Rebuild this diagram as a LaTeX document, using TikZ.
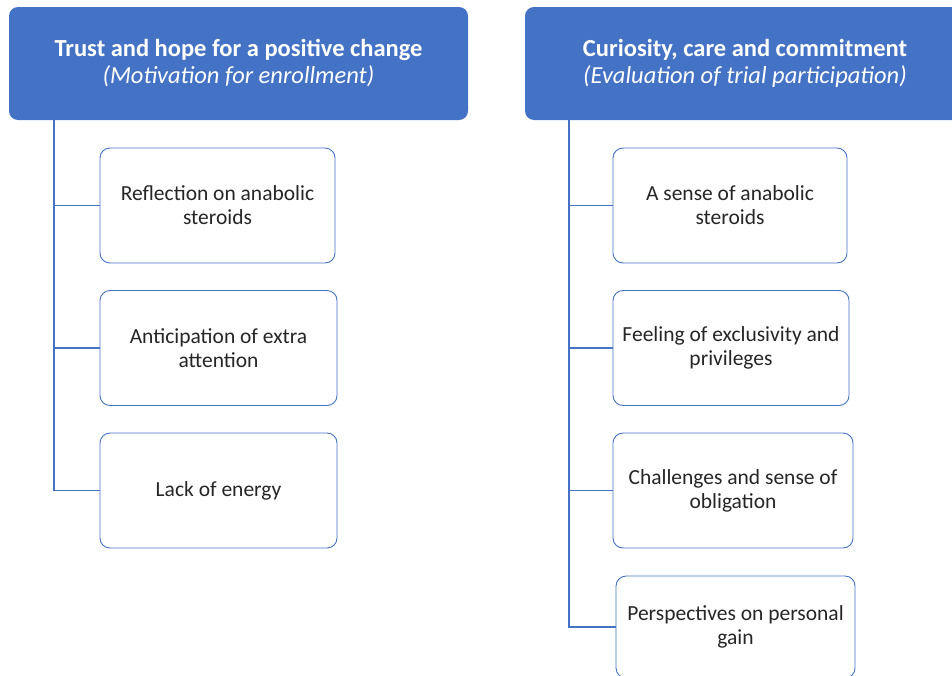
\documentclass[tikz,border=0pt]{standalone}
\usepackage{fontspec}
\setmainfont{Carlito}
\definecolor{hdblue}{HTML}{4472C4}
\begin{document}
\begin{tikzpicture}[
  x=1pt, y=-1pt,
  head/.style={rectangle, rounded corners=9pt, fill=hdblue, text=white, minimum height=113pt, align=center, font=\fontsize{24.5}{27}\selectfont, inner sep=0pt},
  item/.style={rectangle, rounded corners=10pt, draw=hdblue, line width=0.9pt, fill=white, text=black!85, minimum height=115pt, align=center, font=\fontsize{21.5}{24}\selectfont, inner sep=0pt},
  link/.style={draw=hdblue, line width=1.2pt}
]
  \clip (0,0) rectangle (952,675);
  % headers
  \node[head, minimum width=459pt] (h1) at (238.5,63.5) {\textbf{Trust and hope for a positive change}\\\textit{(Motivation for enrollment)}};
  \node[head, minimum width=440pt] (h2) at (745,63.5) {\textbf{Curiosity, care and commitment}\\\textit{(Evaluation of trial participation)}};
  \coordinate (t1) at (54,120);
  \coordinate (t2) at (569,120);
  % left column
  \node[item, minimum width=235pt] (b11) at (217.5,205.5) {Reflection on anabolic\\steroids};
  \node[item, minimum width=237pt] (b12) at (218.5,348) {Anticipation of extra\\attention};
  \node[item, minimum width=237pt] (b13) at (218.5,490.5) {Lack of energy};
  % right column
  \node[item, minimum width=234pt] (b21) at (730,205.5) {A sense of anabolic\\steroids};
  \node[item, minimum width=236pt] (b22) at (731,348) {Feeling of exclusivity and\\privileges};
  \node[item, minimum width=240pt] (b23) at (733,490.5) {Challenges and sense of\\obligation};
  \node[item, minimum width=239pt, minimum height=102pt] (b24) at (735.5,627) {Perspectives on personal\\gain};
  % connectors
  \draw[link] (t1) |- (b13.west);
  \draw[link] (b11.west) -| (t1);
  \draw[link] (b12.west) -| (t1);
  \draw[link] (t2) |- (b24.west);
  \draw[link] (b21.west) -| (t2);
  \draw[link] (b22.west) -| (t2);
  \draw[link] (b23.west) -| (t2);
\end{tikzpicture}
\end{document}
